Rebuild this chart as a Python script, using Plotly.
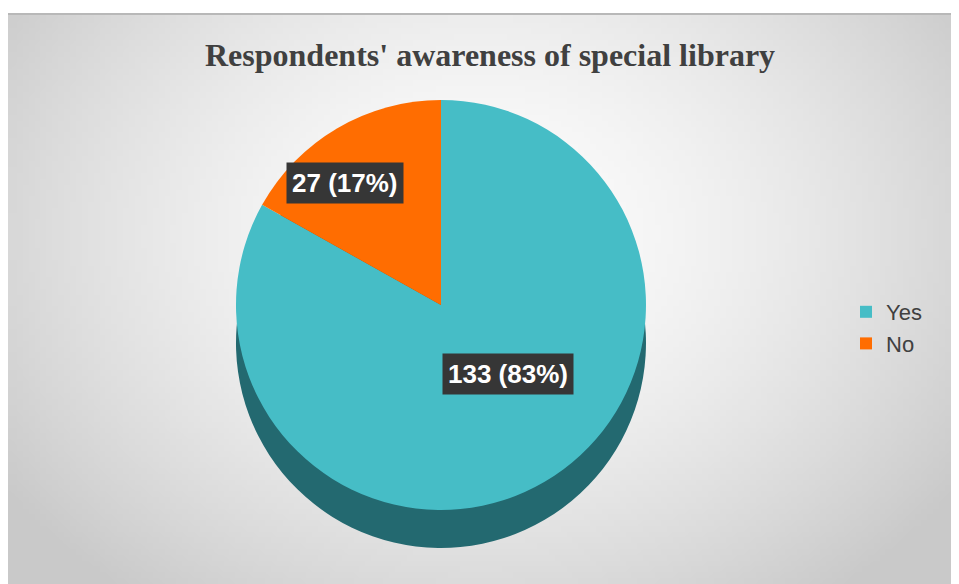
import base64
import struct
import zlib

import numpy as np
import plotly.graph_objects as go

categories = ["Yes", "No"]
counts = [133, 27]
percents = [83, 17]
title_text = "Respondents' awareness of special library"

top_colors = ["#46bdc6", "#ff6d01"]
side_colors = ["#236970", "#a84800"]

W, H = 959, 584


def ydom(top_px, bottom_px):
    return [(H - bottom_px) / H, (H - top_px) / H]


# ---- radial grey background (decoration only) ----
def gradient_png(w=160, h=100):
    yy, xx = np.mgrid[0:h, 0:w]
    d = np.sqrt(((xx / (w - 1) - 0.5) / 0.62) ** 2 + ((yy / (h - 1) - 0.38) / 0.80) ** 2)
    d = np.clip(d, 0, 1)
    v = (253 - 52 * d ** 1.6).astype(np.uint8)
    arr = np.stack([v, v, v], axis=-1)
    raw = b"".join(b"\x00" + arr[r].tobytes() for r in range(h))

    def chunk(t, data):
        c = struct.pack(">I", len(data)) + t + data
        return c + struct.pack(">I", zlib.crc32(t + data) & 0xFFFFFFFF)

    png = (b"\x89PNG\r\n\x1a\n"
           + chunk(b"IHDR", struct.pack(">IIBBBBB", w, h, 8, 2, 0, 0, 0))
           + chunk(b"IDAT", zlib.compress(raw, 9))
           + chunk(b"IEND", b""))
    return "data:image/png;base64," + base64.b64encode(png).decode()


fig = go.Figure()

# depth (side) of the pie
fig.add_trace(go.Pie(
    labels=categories, values=counts, sort=False, direction="clockwise", rotation=0,
    marker=dict(colors=side_colors, line=dict(width=0)),
    textinfo="none", hoverinfo="skip", showlegend=False,
    domain=dict(x=[0.2, 0.703], y=ydom(130, 540)),
))
# top face
fig.add_trace(go.Pie(
    labels=categories, values=counts, sort=False, direction="clockwise", rotation=0,
    marker=dict(colors=top_colors, line=dict(width=0)),
    textinfo="none", showlegend=True,
    domain=dict(x=[0.2, 0.703], y=ydom(92, 502)),
))

label_pos = {"Yes": (500, 366), "No": (337, 175)}
annotations = []
for cat, c, p in zip(categories, counts, percents):
    px, py = label_pos[cat]
    annotations.append(dict(
        x=px / W, y=1 - py / H, xref="paper", yref="paper", showarrow=False,
        xanchor="center", yanchor="middle",
        text=f"<b>{c} ({p}%)</b>",
        font=dict(family="Liberation Sans, Arial", size=26, color="white"),
        bgcolor="#363636", borderpad=5,
    ))
annotations.append(dict(
    x=482 / W, y=1 - 47 / H, xref="paper", yref="paper", showarrow=False,
    xanchor="center", yanchor="middle",
    text=f"<b>{title_text}</b>",
    font=dict(family="Liberation Serif, Times New Roman", size=32, color="#404040"),
))

shapes = [
    dict(type="line", xref="paper", yref="paper", x0=0, x1=945 / W, y0=1 - 6 / H, y1=1 - 6 / H,
         line=dict(width=2, color="#b8b8b8")),
]

fig.update_layout(
    width=W, height=H,
    margin=dict(l=0, r=0, t=0, b=0),
    paper_bgcolor="white",
    images=[dict(source=gradient_png(), xref="paper", yref="paper", x=0, y=1 - 6 / H,
                 sizex=945 / W, sizey=1 - 6 / H, xanchor="left", yanchor="top",
                 sizing="stretch", layer="below")],
    annotations=annotations,
    shapes=shapes,
    legend=dict(x=838 / W, y=1 - 320 / H, xanchor="left", yanchor="middle",
                font=dict(family="Liberation Sans, Arial", size=22, color="#404040"),
                bgcolor="rgba(0,0,0,0)", itemwidth=30),
)

fig.write_html("out.html")
